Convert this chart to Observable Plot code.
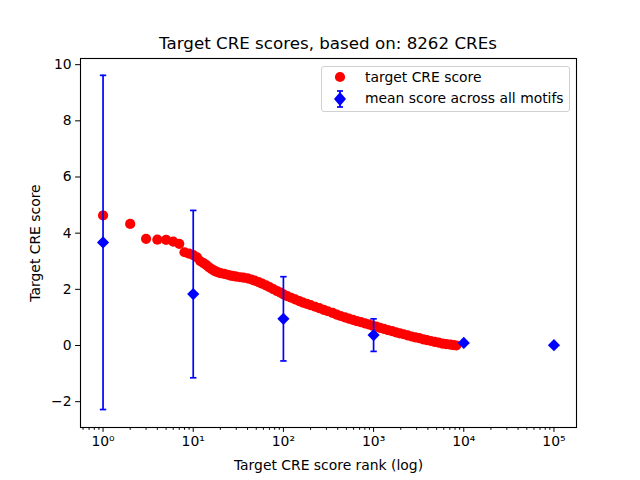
<!DOCTYPE html>
<html><head><meta charset="utf-8">
<script src="https://cdn.jsdelivr.net/npm/d3@7"></script>
<script src="https://cdn.jsdelivr.net/npm/@observablehq/plot@0.6"></script>
<style>
body{margin:0;background:#fff;font-family:"DejaVu Sans",sans-serif;}
#wrap{position:relative;width:640px;height:480px;overflow:hidden;}
#title{position:absolute;left:80px;width:496px;top:33px;text-align:center;font-size:16.7px;color:#000;white-space:nowrap;}
#legend{position:absolute;left:321px;top:66px;width:247px;height:44px;border:1px solid #d0d0d0;border-radius:3px;background:rgba(255,255,255,0.8);font-size:13.9px;color:#000;}
#legend .row{position:absolute;left:0;height:20px;line-height:20px;white-space:nowrap;}
#legend svg{position:absolute;left:8px;top:0;}
#legend span{position:absolute;left:43px;top:0;}
</style></head><body>
<div id="wrap"><div id="chart"></div><div id="title"></div><div id="legend"></div></div>
<script>
const titleText = "Target CRE scores, based on: 8262 CREs";
const xLabel = "Target CRE score rank (log)";
const yLabel = "Target CRE score";
const legendLabels = ["target CRE score", "mean score across all motifs"];

// target CRE score by rank
const ranks = [1,2,3,4,5,6,7,8,9,10,11,12,13,14,15,16,17,18,19,20,22,24,26,28,30,33,36,40,44,48,53,58,64,70,77,85,93,100,110,122,135,150,165,182,200,225,250,280,310,350,390,430,480,530,590,650,720,800,880,970,1070,1180,1300,1440,1600,1770,1950,2150,2380,2630,2900,3200,3550,3900,4300,4750,5250,5800,6400,7100,7700,8262];
const scores = [4.63,4.33,3.80,3.77,3.76,3.70,3.62,3.32,3.27,3.22,3.14,3.00,2.93,2.86,2.78,2.72,2.67,2.63,2.60,2.58,2.55,2.52,2.49,2.47,2.45,2.43,2.42,2.39,2.35,2.31,2.26,2.20,2.14,2.08,2.01,1.94,1.88,1.82,1.76,1.70,1.64,1.58,1.53,1.48,1.44,1.38,1.33,1.27,1.22,1.16,1.10,1.05,1.00,0.96,0.91,0.87,0.83,0.79,0.75,0.71,0.67,0.63,0.59,0.55,0.51,0.47,0.43,0.40,0.36,0.32,0.29,0.26,0.22,0.19,0.16,0.13,0.10,0.07,0.05,0.03,0.01,0.00];

// mean score across all motifs, with error
const motifRanks = [1,10,100,1000,10000,100000];
const motifMeans = [3.67,1.83,0.95,0.37,0.09,0.01];
const motifErrors = [5.95,2.98,1.50,0.58,0.04,0.0];

const xTicks = [1,10,100,1000,10000,100000];
const xTickLabels = ["10⁰","10¹","10²","10³","10⁴","10⁵"];
const yTicks = [-2,0,2,4,6,8,10];

const cre = ranks.map((r,i)=>({rank:r, score:scores[i]}));
const motifs = motifRanks.map((r,i)=>({rank:r, mean:motifMeans[i], lo:motifMeans[i]-motifErrors[i], hi:motifMeans[i]+motifErrors[i]}));

const minorTicks = [];
for (let k=-1;k<=5;k++) for (let m=2;m<=9;m++){const v=m*Math.pow(10,k); if (v>0.56 && v<1.78e5) minorTicks.push(v);}

const capSymbol = {draw(ctx, size){ ctx.moveTo(-3.2,0); ctx.lineTo(3.2,0); }};

const chart = Plot.plot({
  width:640, height:480,
  marginLeft:80, marginRight:64, marginTop:58, marginBottom:53,
  style:{fontFamily:"DejaVu Sans", fontSize:"13.9px", color:"#000", background:"#fff", overflow:"visible"},
  x:{type:"log", domain:[Math.pow(10,-0.25), Math.pow(10,5.25)]},
  y:{domain:[-2.92,10.22]},
  marks:[
    Plot.dot(cre, {x:"rank", y:"score", r:5.1, fill:"#ff0000", stroke:"none"}),
    Plot.ruleX(motifs, {x:"rank", y1:"lo", y2:"hi", stroke:"#0000ff", strokeWidth:1.7}),
    Plot.dot(motifs, {x:"rank", y:"lo", symbol:capSymbol, stroke:"#0000ff", strokeWidth:1.7, fill:"none", r:3}),
    Plot.dot(motifs, {x:"rank", y:"hi", symbol:capSymbol, stroke:"#0000ff", strokeWidth:1.7, fill:"none", r:3}),
    Plot.dot(motifs, {x:"rank", y:"mean", symbol:"diamond2", r:5.5, fill:"#0000ff", stroke:"none"}),
    Plot.frame({stroke:"#000", strokeWidth:1.1}),
    Plot.axisX(minorTicks, {tickSize:2.8, tickFormat:()=>"", label:null, strokeWidth:1}),
    Plot.axisX(xTicks, {tickSize:4.9, tickPadding:4, tickFormat:d=>xTickLabels[xTicks.indexOf(d)], fontSize:13.9, label:xLabel, labelAnchor:"center", labelArrow:"none", labelOffset:42}),
    Plot.axisY(yTicks, {tickSize:4.9, tickPadding:4, fontSize:13.9, label:yLabel, labelAnchor:"center", labelArrow:"none", labelOffset:50, tickFormat:d=>d<0?"\u2212"+Math.abs(d):String(d)})
  ]
});
document.getElementById("chart").appendChild(chart);
document.getElementById("title").textContent = titleText;

const lg = document.getElementById("legend");
lg.innerHTML =
  '<div class="row" style="top:0px;width:247px"><svg width="30" height="20"><circle cx="10" cy="10" r="5.1" fill="#ff0000"/></svg><span>'+legendLabels[0]+'</span></div>'+
  '<div class="row" style="top:21px;width:247px"><svg width="30" height="22"><line x1="10" y1="3" x2="10" y2="19" stroke="#0000ff" stroke-width="1.7"/><line x1="7" y1="3" x2="13" y2="3" stroke="#0000ff" stroke-width="1.7"/><line x1="7" y1="19" x2="13" y2="19" stroke="#0000ff" stroke-width="1.7"/><path d="M10,4 L16,11 L10,18 L4,11 Z" fill="#0000ff"/></svg><span>'+legendLabels[1]+'</span></div>';
</script>
</body></html>
